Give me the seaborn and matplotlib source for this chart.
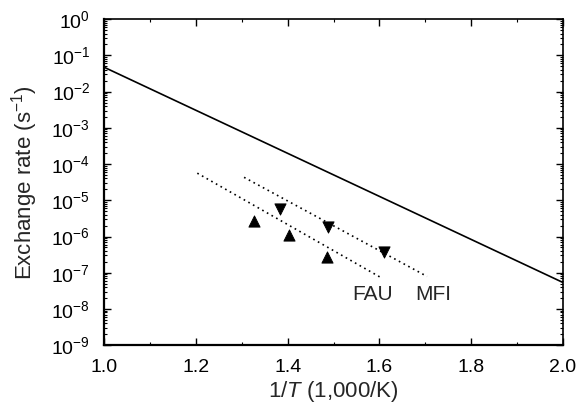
import numpy as np
import pandas as pd
import matplotlib
matplotlib.use("Agg")
import matplotlib.pyplot as plt
import seaborn as sns
from matplotlib.ticker import LogLocator, FixedLocator, NullFormatter, FuncFormatter

# solid line (theory)
line_x = [1.0, 2.0]
line_y = [4.7e-2, 5.4e-8]

# FAU points (up triangles) and dotted fit
fau_x = [1.327, 1.403, 1.486]
fau_y = [2.6e-6, 1.07e-6, 2.7e-7]
fau_fit_x = [1.203, 1.603]
fau_fit_y = [5.6e-5, 7.4e-8]

# MFI points (down triangles) and dotted fit
mfi_x = [1.383, 1.488, 1.610]
mfi_y = [5.6e-6, 1.8e-6, 3.7e-7]
mfi_fit_x = [1.305, 1.704]
mfi_fit_y = [4.3e-5, 7.9e-8]

x_ticks = [1.0, 1.2, 1.4, 1.6, 1.8, 2.0]

sns.set_style("ticks")
plt.rcParams['font.family'] = ['Liberation Sans', 'DejaVu Sans']
plt.rcParams['mathtext.fontset'] = 'custom'
plt.rcParams['mathtext.rm'] = 'Liberation Sans'
plt.rcParams['mathtext.it'] = 'Liberation Sans:italic'

fig = plt.figure(figsize=(5.79, 4.08), dpi=100)
ax = fig.add_axes([0.18, 0.154, 0.792, 0.799])

sns.lineplot(x=line_x, y=line_y, color="black", linewidth=1.2, ax=ax)
sns.lineplot(x=fau_fit_x, y=fau_fit_y, color="black", linewidth=1.2,
             linestyle=(0, (1, 2.2)), ax=ax)
sns.lineplot(x=mfi_fit_x, y=mfi_fit_y, color="black", linewidth=1.2,
             linestyle=(0, (1, 2.2)), ax=ax)
sns.scatterplot(x=fau_x, y=fau_y, marker="^", s=65, color="black",
                edgecolor="black", ax=ax)
sns.scatterplot(x=mfi_x, y=mfi_y, marker="v", s=65, color="black",
                edgecolor="black", ax=ax)

ax.set_yscale("log")
ax.set_xlim(1.0, 2.0)
ax.set_ylim(1e-9, 1e0)
ax.xaxis.set_major_locator(FixedLocator(x_ticks))
ax.xaxis.set_major_formatter(FuncFormatter(lambda v, p: f"{v:.1f}"))
ax.xaxis.set_minor_locator(FixedLocator(np.arange(1.0, 2.01, 0.1)))
ax.yaxis.set_major_locator(LogLocator(base=10, numticks=20))
ax.yaxis.set_minor_locator(LogLocator(base=10, subs=np.arange(2, 10), numticks=20))
ax.yaxis.set_minor_formatter(NullFormatter())
ax.yaxis.set_major_formatter(FuncFormatter(lambda v, p: r"$10^{%d}$" % round(np.log10(v))))

ax.tick_params(which="both", direction="in", top=True, right=True, labelsize=14, colors="black")
ax.tick_params(which="major", length=5, width=1, pad=10)
ax.tick_params(which="minor", length=2.5, width=0.8)
for sp in ax.spines.values():
    sp.set_linewidth(1.2)
    sp.set_color("black")
ax.spines["left"].set_linewidth(1.6)
ax.spines["bottom"].set_linewidth(1.6)

ax.text(1.586, 4.5e-8, "FAU", fontsize=15, ha="center", va="top")
ax.text(1.717, 4.5e-8, "MFI", fontsize=15, ha="center", va="top")

ax.set_xlabel(r"1/$\it{T}$ (1,000/K)", fontsize=16, labelpad=2)
ax.set_ylabel(r"Exchange rate (s$^{-1}$)", fontsize=16, labelpad=8)

fig.savefig("out.png", dpi=100)
